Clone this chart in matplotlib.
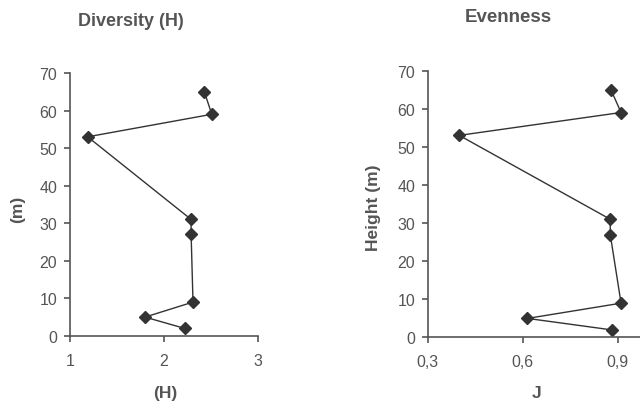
import matplotlib
matplotlib.use("Agg")
import matplotlib.pyplot as plt

height = [2, 5, 9, 27, 31, 53, 59, 65]
diversity_H = [2.22, 1.80, 2.31, 2.29, 2.29, 1.19, 2.51, 2.43]
evenness_J = [0.88, 0.615, 0.91, 0.876, 0.876, 0.40, 0.91, 0.878]

plt.rcParams['font.family'] = ['Liberation Sans', 'DejaVu Sans']
txt = '#555555'
line_c = '#333333'
axis_c = '#555555'

fig = plt.figure(figsize=(6.4, 4.02), dpi=100)

def style(ax):
    for s in ['top', 'right']:
        ax.spines[s].set_visible(False)
    for s in ['left', 'bottom']:
        ax.spines[s].set_color(axis_c)
        ax.spines[s].set_linewidth(1.2)
    ax.tick_params(direction='out', length=4, width=1.2, color=axis_c,
                   labelcolor=txt, labelsize=11.5)
    ax.tick_params(axis='x', pad=8)
    ax.tick_params(axis='y', pad=5)
    ax.set_ylim(0, 70)
    ax.set_yticks(range(0, 71, 10))

ax1 = fig.add_axes([0.109, 0.162, 0.294, 0.654])
ax1.plot(diversity_H, height, color=line_c, marker='D', markersize=6, lw=1.0)
ax1.set_xlim(1, 3)
ax1.set_xticks([1, 2, 3])
style(ax1)

ax2 = fig.add_axes([0.668, 0.158, 0.347, 0.664])
ax2.plot(evenness_J, height, color=line_c, marker='D', markersize=6, lw=1.0, clip_on=False)
ax2.set_xlim(0.3, 1.0)
ax2.set_xticks([0.3, 0.6, 0.9])
ax2.set_xticklabels(['0,3', '0,6', '0,9'])
style(ax2)

fig.text(0.204, 0.946, 'Diversity (H)', ha='center', va='center',
         fontsize=13, fontweight='bold', color=txt)
fig.text(0.794, 0.957, 'Evenness', ha='center', va='center',
         fontsize=13.5, fontweight='bold', color=txt)
fig.text(0.027, 0.478, '(m)', rotation=90, ha='center', va='center',
         fontsize=12.5, fontweight='bold', color=txt)
fig.text(0.584, 0.484, 'Height (m)', rotation=90, ha='center', va='center',
         fontsize=12.5, fontweight='bold', color=txt)
fig.text(0.258, 0.022, '(H)', ha='center', va='center',
         fontsize=12.5, fontweight='bold', color=txt)
fig.text(0.838, 0.022, 'J', ha='center', va='center',
         fontsize=12.5, fontweight='bold', color=txt)

fig.savefig('out.png', dpi=100)
